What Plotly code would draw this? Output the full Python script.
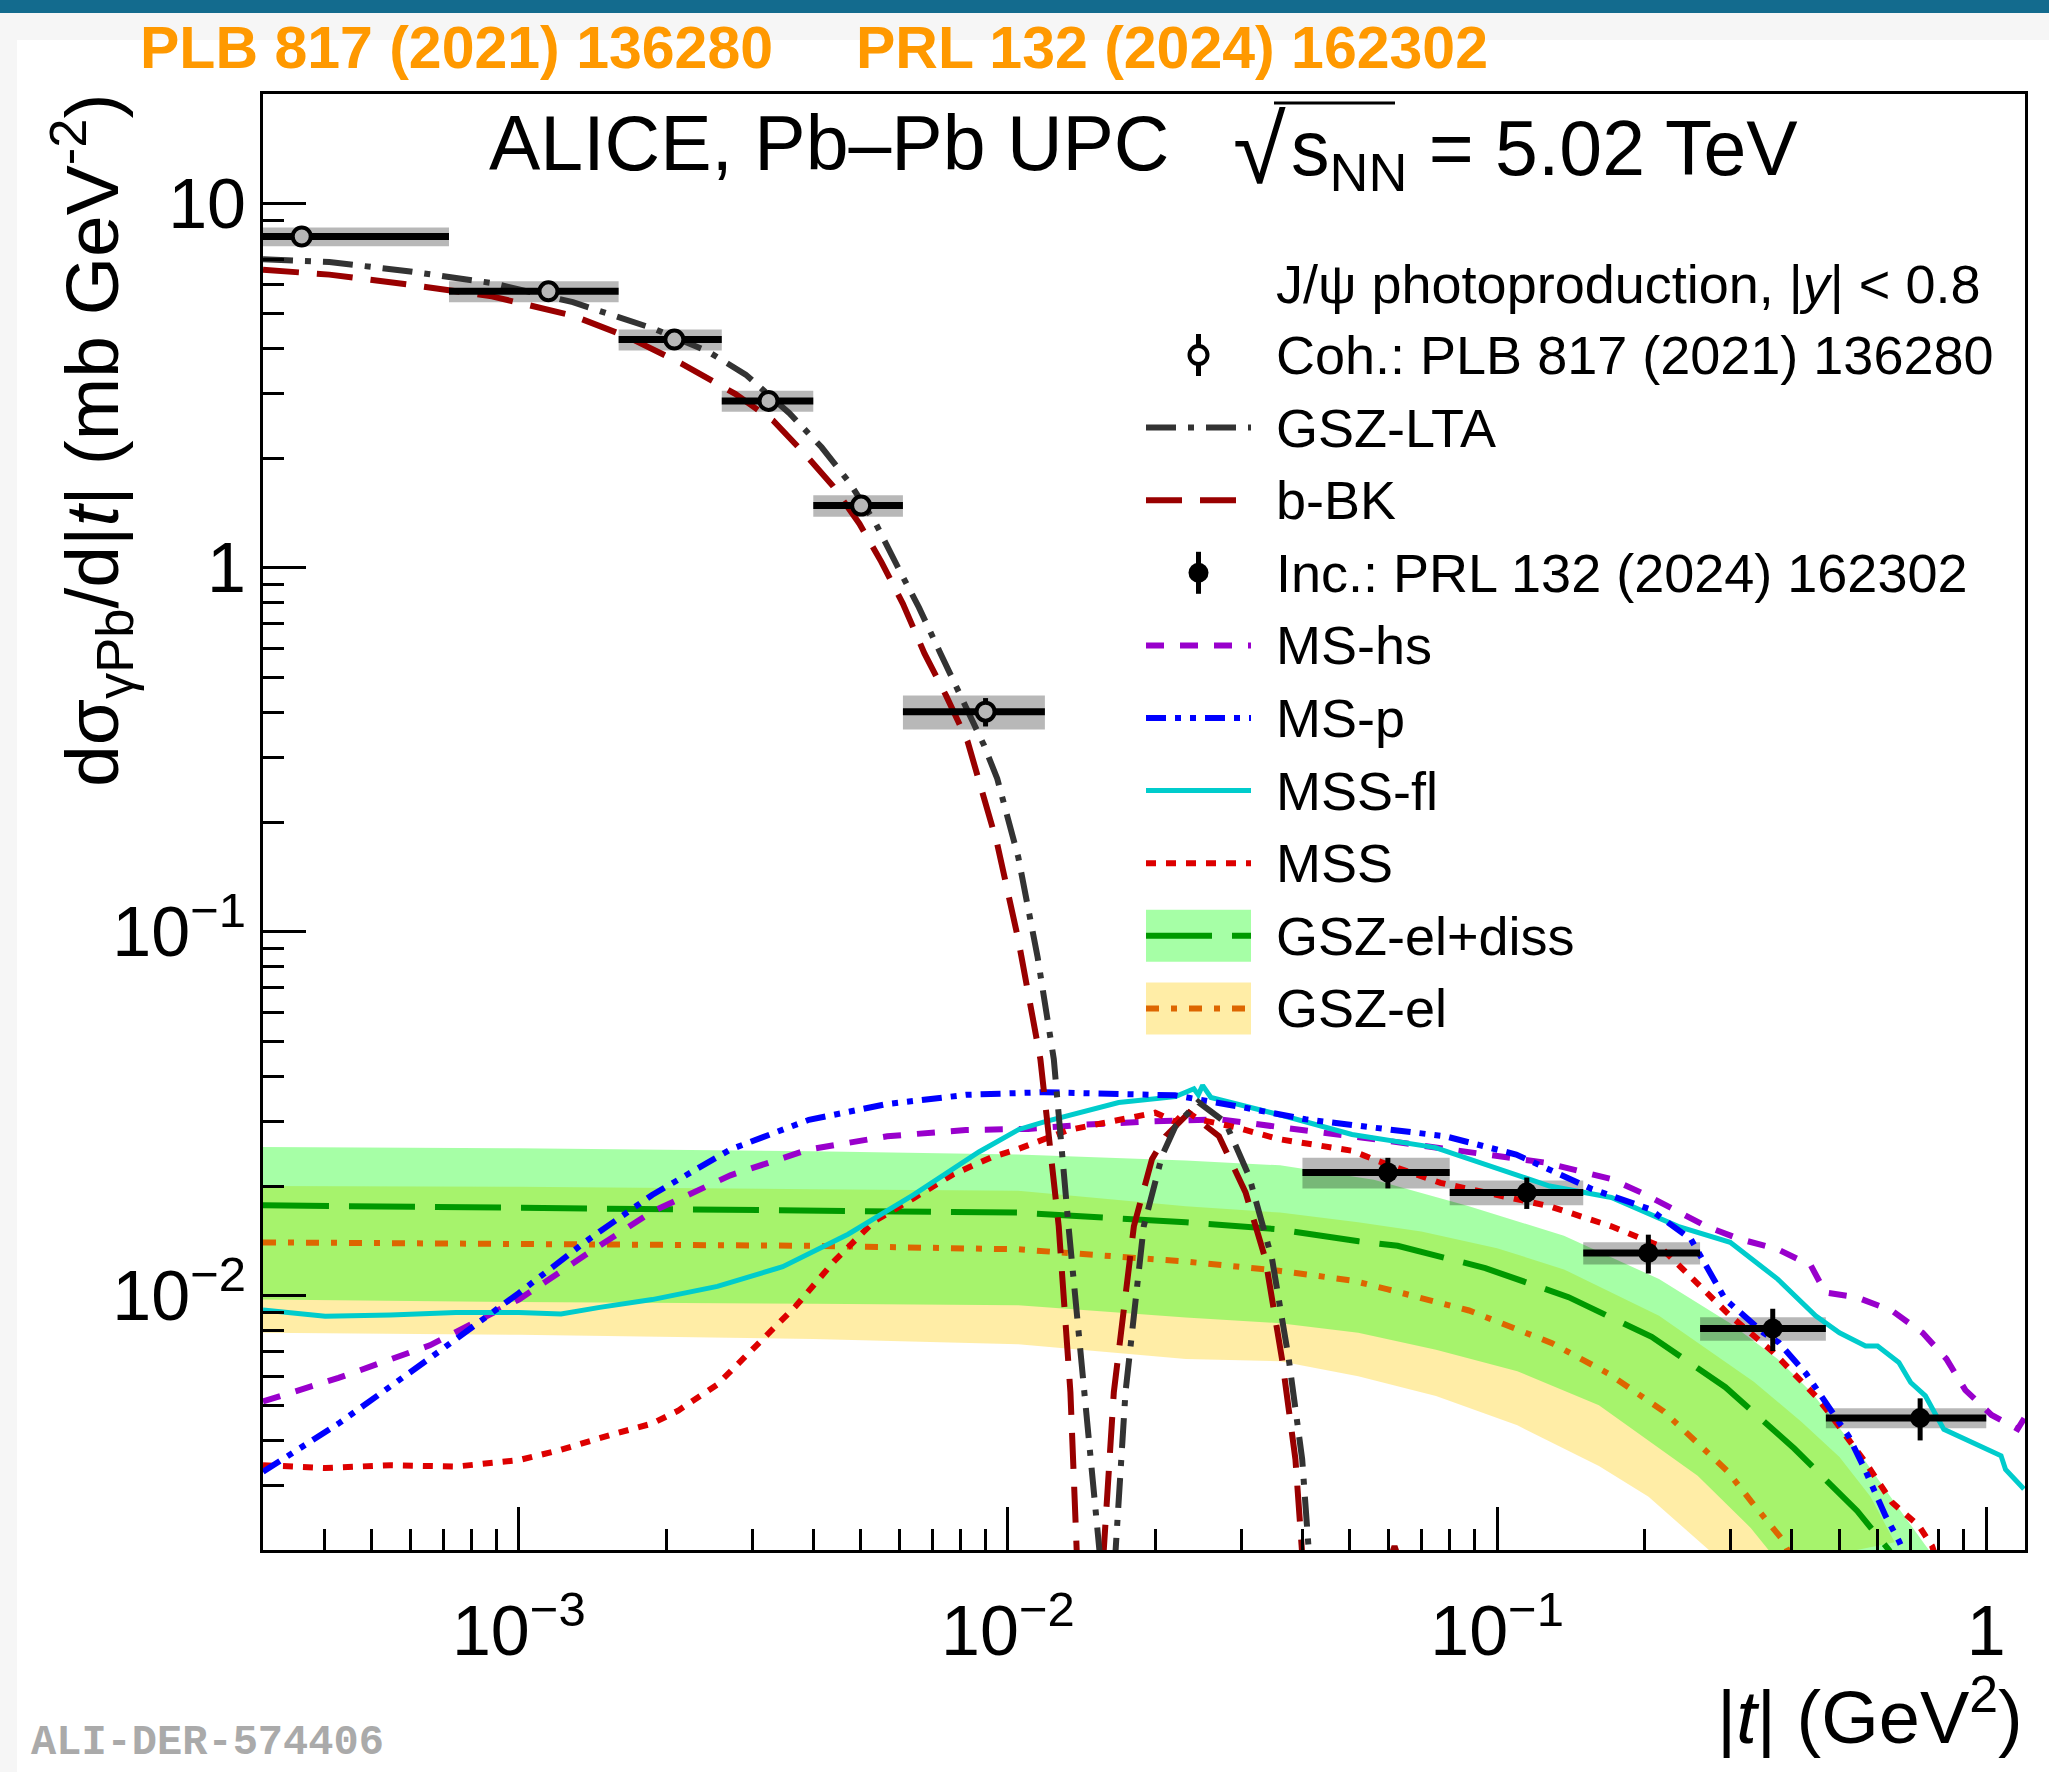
import numpy as np
import plotly.graph_objects as go

# ------------------------------------------------------------------ data
# Coherent J/psi, PLB 817 (2021) 136280
COH_T = [3.6e-4, 1.15e-3, 2.08e-3, 3.24e-3, 5.01e-3, 9.0e-3]
COH_EDGES = [0.0, 7.2e-4, 1.6e-3, 2.6e-3, 4.0e-3, 6.1e-3, 1.19e-2]
COH_Y = [8.12, 5.74, 4.23, 2.87, 1.48, 0.402]
COH_STAT = [0.20, 0.12, 0.09, 0.07, 0.05, 0.036]
COH_SYST = [0.48, 0.38, 0.28, 0.19, 0.10, 0.043]

# Incoherent J/psi, PRL 132 (2024) 162302
INC_T = [0.0598, 0.115, 0.2038, 0.366, 0.7325]
INC_EDGES = [0.04, 0.08, 0.15, 0.26, 0.47, 1.0]
INC_Y = [0.0218, 0.0192, 0.0131, 0.00812, 0.00461]
INC_STAT = [0.0021, 0.0019, 0.0016, 0.00108, 0.00061]
INC_SYST = [0.0021, 0.0015, 0.00092, 0.0006, 0.00029]

# GSZ-LTA
LTA_T = [3.0e-4, 4.1e-4, 6.0e-4, 8.81e-4, 1.29e-3, 1.89e-3, 2.44e-3, 2.91e-3, 3.57e-3,
         4.16e-3, 4.73e-3, 5.37e-3, 5.94e-3, 6.58e-3, 7.28e-3, 8.06e-3, 8.93e-3, 9.51e-3,
         1.05e-2, 1.15e-2, 1.241e-2, 1.33e-2, 1.429e-2, 1.538e-2, 1.60e-2, 1.66e-2,
         1.739e-2, 1.895e-2, 2.065e-2, 2.20e-2, 2.45e-2, 2.784e-2, 3.11e-2, 3.467e-2,
         3.75e-2, 3.995e-2, 4.12e-2, 4.5e-2]
LTA_Y = [7.03, 6.91, 6.51, 6.05, 5.36, 4.53, 3.92, 3.39, 2.66,
         2.14, 1.72, 1.32, 1.01, 0.776, 0.581, 0.4346, 0.3254, 0.263,
         0.16, 0.085, 0.0446, 0.0155, 0.00542, 0.0020, 1e-5, 0.0020,
         0.00542, 0.0155, 0.0242, 0.0292, 0.0340, 0.0299, 0.0213, 0.0126,
         0.0067, 0.00355, 0.0020, 1e-5]

# b-BK
BBK_T = [3.0e-4, 4.1e-4, 6.0e-4, 8.81e-4, 1.29e-3, 1.665e-3, 2.147e-3, 2.77e-3, 3.31e-3,
         3.86e-3, 4.38e-3, 4.97e-3, 5.51e-3, 6.1e-3, 6.75e-3, 7.47e-3, 8.27e-3, 8.7e-3,
         9.5e-3, 1.05e-2, 1.165e-2, 1.27e-2, 1.342e-2, 1.382e-2, 1.45e-2, 1.57e-2,
         1.646e-2, 1.809e-2, 1.97e-2, 2.10e-2, 2.344e-2, 2.70e-2, 3.06e-2, 3.36e-2,
         3.634e-2, 3.87e-2, 3.99e-2, 4.6e-2, 5.5e-2, 6.17e-2, 6.9e-2, 8.0e-2]
BBK_Y = [6.58, 6.38, 5.98, 5.56, 4.92, 4.31, 3.64, 3.00, 2.535,
         2.04, 1.68, 1.32, 1.037, 0.795, 0.581, 0.4455, 0.333, 0.263,
         0.175, 0.095, 0.0446, 0.0155, 0.00542, 0.0020, 1e-5, 0.0020,
         0.00542, 0.0155, 0.0237, 0.0274, 0.0318, 0.0274, 0.0192, 0.0126,
         0.00668, 0.00355, 0.0020, 1e-5, 0.0013, 0.00205, 0.0013, 1e-5]

# MS-hs
MSHS_T = [3.0e-4, 4.28e-4, 6.58e-4, 1.0e-3, 1.377e-3, 1.873e-3, 2.708e-3, 3.918e-3,
          5.667e-3, 8.2e-3, 1.10e-2, 1.44e-2, 1.97e-2, 2.70e-2, 3.69e-2, 5.05e-2,
          5.98e-2, 0.1252, 0.1464, 0.1712, 0.2002, 0.229, 0.2677, 0.3131, 0.3746,
          0.4379, 0.4686, 0.5418, 0.6405, 0.741, 0.8289, 0.9063, 1.025, 1.159, 1.196]
MSHS_Y = [0.00512, 0.00594, 0.0073, 0.00975, 0.0130, 0.0170, 0.0214, 0.0252,
          0.0274, 0.0285, 0.0287, 0.0295, 0.0301, 0.0305, 0.0289, 0.0274,
          0.0266, 0.0232, 0.0220, 0.0209, 0.0190, 0.0173, 0.0155, 0.0143, 0.0134,
          0.0121, 0.0102, 0.0099, 0.0091, 0.0079, 0.0067, 0.0055, 0.0047, 0.0043, 0.0046]

# MS-p
MSP_T = [3.0e-4, 4.28e-4, 6.58e-4, 1.0e-3, 1.377e-3, 1.873e-3, 2.708e-3, 3.918e-3,
         5.667e-3, 8.2e-3, 1.186e-2, 1.613e-2, 2.194e-2, 2.983e-2, 4.057e-2, 5.518e-2,
         7.83e-2, 0.1094, 0.1565, 0.2047, 0.2489, 0.2927, 0.3503, 0.3767, 0.4283,
         0.5236, 0.5665, 0.6224, 0.6627, 0.70]
MSP_Y = [0.00328, 0.00445, 0.00673, 0.01016, 0.01415, 0.0189, 0.0252, 0.0304,
         0.0336, 0.0356, 0.0362, 0.0360, 0.0355, 0.0330, 0.0305, 0.0290,
         0.0274, 0.0244, 0.0196, 0.0173, 0.0143, 0.00977, 0.0079, 0.00743, 0.0061,
         0.0041, 0.0033, 0.00248, 0.00212, 0.0018]

# MSS-fl
MSSFL_T = [3.0e-4, 4.02e-4, 5.47e-4, 7.44e-4, 1.0e-3, 1.22e-3, 1.464e-3, 1.873e-3,
           2.547e-3, 3.464e-3, 4.713e-3, 6.409e-3, 8.72e-3, 1.052e-2, 1.186e-2,
           1.684e-2, 2.20e-2, 2.40e-2, 2.45e-2, 2.50e-2, 2.60e-2, 3.69e-2, 5.05e-2,
           7.48e-2, 0.128, 0.1712, 0.2343, 0.2996, 0.3746, 0.4479, 0.5011, 0.5665,
           0.5994, 0.6627, 0.7006, 0.751, 0.8189, 0.9371, 0.9808, 1.072, 1.095, 1.194]
MSSFL_Y = [0.00913, 0.00877, 0.00884, 0.00898, 0.00898, 0.0089, 0.00928, 0.00975,
           0.0106, 0.0120, 0.01474, 0.0189, 0.0248, 0.0286, 0.0300,
           0.0339, 0.0352, 0.0370, 0.0356, 0.0378, 0.0350, 0.0311, 0.0277,
           0.0255, 0.0200, 0.0186, 0.0155, 0.0140, 0.0111, 0.0088, 0.0079, 0.00727,
           0.00727, 0.00655, 0.00577, 0.0053, 0.00429, 0.00395, 0.00386, 0.00363, 0.00333, 0.00294]

# MSS
MSS_T = [3.0e-4, 4.02e-4, 5.47e-4, 7.44e-4, 1.0e-3, 1.22e-3, 1.557e-3, 1.873e-3,
         2.118e-3, 2.547e-3, 3.063e-3, 3.685e-3, 4.43e-3, 5.33e-3, 6.409e-3, 7.71e-3,
         9.27e-3, 1.052e-2, 1.33e-2, 1.684e-2, 2.00e-2, 2.20e-2, 2.31e-2, 2.45e-2,
         2.92e-2, 3.58e-2, 5.05e-2, 5.72e-2, 7.66e-2, 0.128, 0.1712, 0.2143, 0.2504,
         0.2996, 0.3663, 0.4479, 0.4767, 0.5418, 0.5665, 0.6422, 0.7283, 0.775, 0.80]
MSS_Y = [0.00342, 0.00336, 0.00342, 0.00339, 0.00353, 0.00377, 0.00416, 0.00445,
         0.00483, 0.0057, 0.0073, 0.00936, 0.0125, 0.0160, 0.0185, 0.0215,
         0.0240, 0.0253, 0.0285, 0.0305, 0.0318, 0.0300, 0.0322, 0.0305,
         0.0290, 0.0269, 0.0250, 0.0234, 0.0204, 0.0176, 0.0155, 0.0137, 0.0111,
         0.0088, 0.0070, 0.0053, 0.00477, 0.00378, 0.00348, 0.0027, 0.00233, 0.00205, 0.0018]

# GSZ-el+diss : central curve and band
GSZD_T = [3.0e-4, 1.0e-3, 4.0e-3, 1.05e-2, 2.31e-2, 3.58e-2, 5.21e-2, 6.26e-2, 9.46e-2,
          0.14, 0.207, 0.2929, 0.405, 0.5447, 0.6324, 0.70]
GSZD_Y = [0.0177, 0.0174, 0.0172, 0.0169, 0.0159, 0.0152, 0.0141, 0.0137, 0.0119,
          0.0099, 0.0077, 0.0056, 0.0038, 0.00256, 0.0020, 0.0016]
GSZD_HI_T = [3.0e-4, 1.0e-3, 4.0e-3, 1.05e-2, 2.31e-2, 3.6e-2, 5.6e-2, 8.76e-2, 0.137,
             0.2143, 0.2996, 0.3746, 0.4406, 0.5665, 0.6627, 0.763, 0.85]
GSZD_HI = [0.0256, 0.0254, 0.0249, 0.0244, 0.0235, 0.0228, 0.0208, 0.0176, 0.0146,
           0.0111, 0.0084, 0.0067, 0.0054, 0.0035, 0.0026, 0.0020, 0.0016]
GSZD_LO_T = [3.0e-4, 1.0e-3, 4.0e-3, 1.05e-2, 2.31e-2, 3.6e-2, 5.2e-2, 7.5e-2, 0.11,
             0.1615, 0.257, 0.33, 0.37, 0.42]
GSZD_LO = [0.00976, 0.0096, 0.0095, 0.0094, 0.0087, 0.0084, 0.0079, 0.0071, 0.0062,
           0.0050, 0.0032, 0.0023, 0.0019, 0.0015]

# GSZ-el : central curve and band
GSZE_T = [3.0e-4, 1.0e-3, 4.0e-3, 1.05e-2, 2.31e-2, 3.58e-2, 5.05e-2, 5.98e-2, 8.76e-2,
          0.1295, 0.169, 0.2193, 0.2543, 0.2953, 0.3321, 0.3825, 0.40]
GSZE_Y = [0.0140, 0.0139, 0.0137, 0.0134, 0.0124, 0.0117, 0.0110, 0.0104, 0.0091,
          0.0074, 0.0061, 0.0048, 0.0040, 0.0033, 0.0027, 0.00214, 0.0019]
GSZE_HI_T = [3.0e-4, 1.0e-3, 4.0e-3, 1.05e-2, 2.31e-2, 3.6e-2, 5.2e-2, 7.0e-2, 0.10, 0.137,
             0.2143, 0.3348, 0.4188, 0.5011, 0.58, 0.65]
GSZE_HI = [0.0200, 0.0199, 0.0196, 0.0194, 0.0176, 0.0169, 0.0159, 0.0150, 0.0135, 0.0118,
           0.0088, 0.0058, 0.0045, 0.0036, 0.0028, 0.0021]
GSZE_LO_T = [3.0e-4, 1.0e-3, 4.0e-3, 1.05e-2, 2.31e-2, 3.6e-2, 5.2e-2, 7.5e-2, 0.11,
             0.1615, 0.204, 0.271, 0.30]
GSZE_LO = [0.0079, 0.0078, 0.0076, 0.00735, 0.0067, 0.0066, 0.0060, 0.0053, 0.0044,
           0.0034, 0.0028, 0.0020, 0.0017]

# axis ticks
X_TICKS = [1e-3, 1e-2, 1e-1, 1]
X_TICK_TEXT = ["10<sup>−3</sup>", "10<sup>−2</sup>", "10<sup>−1</sup>", "1"]
Y_TICKS = [1e-2, 1e-1, 1, 10]
Y_TICK_TEXT = ["10<sup>−2</sup>", "10<sup>−1</sup>", "1", "10"]
X_MINOR = [m * 10.0 ** e for e in (-4, -3, -2, -1) for m in range(2, 10) if 3e-4 < m * 10.0 ** e < 1.2]
Y_MINOR = [m * 10.0 ** e for e in (-3, -2, -1, 0) for m in range(2, 10) if 0.002 < m * 10.0 ** e < 20]

# ------------------------------------------------------------------ style
W, H = 2049, 1772
X0, X1, Y0, Y1 = 263, 2025, 94, 1550          # plot area in page pixels
FONT = "Liberation Sans, Arial, Helvetica, sans-serif"
LW = 6

STY = {
    "GSZ-LTA": dict(color="#333333", width=LW, dash="30px,12px,6px,12px"),
    "b-BK": dict(color="#990000", width=LW, dash="36px,18px"),
    "MS-hs": dict(color="#9900cc", width=LW, dash="18px,16px"),
    "MS-p": dict(color="#0000ff", width=LW, dash="20px,9px,6px,9px,6px,9px"),
    "MSS-fl": dict(color="#00cccc", width=5),
    "MSS": dict(color="#dd0000", width=LW, dash="10px,10px"),
    "GSZ-el+diss": dict(color="#009900", width=LW, dash="66px,20px"),
    "GSZ-el": dict(color="#dd6600", width=LW, dash="13px,12px,6px,12px"),
}
GREEN_FILL = "rgba(0,255,0,0.35)"
YELLOW_FILL = "rgba(255,204,0,0.35)"
BOX_FILL = "rgba(0,0,0,0.28)"


def px(x):
    return (x - X0) / (X1 - X0)


def py(y):
    return (Y1 - y) / (Y1 - Y0)


def box_path(edges, vals, errs):
    xs, ys = [], []
    for i, (v, e) in enumerate(zip(vals, errs)):
        lo, hi = max(edges[i], 1e-6), edges[i + 1]
        xs += [lo, hi, hi, lo, lo, None]
        ys += [v - e, v - e, v + e, v + e, v - e, None]
    return xs, ys


fig = go.Figure()
noh = dict(hoverinfo="skip", showlegend=False)

# bands (yellow first, green on top)
fig.add_trace(go.Scatter(x=GSZE_LO_T, y=GSZE_LO, mode="lines", line=dict(width=0), **noh))
fig.add_trace(go.Scatter(x=GSZE_HI_T, y=GSZE_HI, mode="lines", line=dict(width=0),
                         fill="tonexty", fillcolor=YELLOW_FILL, **noh))
fig.add_trace(go.Scatter(x=GSZD_LO_T, y=GSZD_LO, mode="lines", line=dict(width=0), **noh))
fig.add_trace(go.Scatter(x=GSZD_HI_T, y=GSZD_HI, mode="lines", line=dict(width=0),
                         fill="tonexty", fillcolor=GREEN_FILL, **noh))

# systematic boxes
for edges, vals, errs in ((COH_EDGES, COH_Y, COH_SYST), (INC_EDGES, INC_Y, INC_SYST)):
    bx, byy = box_path(edges, vals, errs)
    fig.add_trace(go.Scatter(x=bx, y=byy, mode="lines", line=dict(width=0),
                             fill="toself", fillcolor=BOX_FILL, **noh))

# model curves
for name, tt, yy in (("GSZ-el", GSZE_T, GSZE_Y), ("GSZ-el+diss", GSZD_T, GSZD_Y),
                     ("MS-hs", MSHS_T, MSHS_Y), ("MSS", MSS_T, MSS_Y),
                     ("MSS-fl", MSSFL_T, MSSFL_Y), ("MS-p", MSP_T, MSP_Y),
                     ("b-BK", BBK_T, BBK_Y), ("GSZ-LTA", LTA_T, LTA_Y)):
    fig.add_trace(go.Scatter(x=tt, y=yy, mode="lines", line=STY[name], name=name, **noh))


# data points
def add_points(tt, edges, yy, stat, marker):
    lo = [max(e, 1e-6) for e in edges[:-1]]
    hi = edges[1:]
    fig.add_trace(go.Scatter(
        x=tt, y=yy, mode="markers", marker=marker,
        error_x=dict(type="data", symmetric=False,
                     array=[h - t for h, t in zip(hi, tt)],
                     arrayminus=[t - l for t, l in zip(tt, lo)],
                     color="black", thickness=7, width=0),
        error_y=dict(type="data", array=stat, color="black", thickness=5, width=0),
        **noh))


add_points(COH_T, COH_EDGES, COH_Y, COH_STAT,
           dict(symbol="circle", size=18, color="#b7b7b7", line=dict(color="black", width=4)))
add_points(INC_T, INC_EDGES, INC_Y, INC_STAT,
           dict(symbol="circle", size=20, color="black", line=dict(width=0)))

# ------------------------------------------------------------------ legend (drawn in page pixels)
LEG_X0, LEG_X1, LEG_TX = 1146, 1251, 1274
LEG_HEADER_Y, LEG_Y0, LEG_DY = 284, 355, 72.6
LEGEND = ["Coh.: PLB 817 (2021) 136280", "GSZ-LTA", "b-BK", "Inc.: PRL 132 (2024) 162302",
          "MS-hs", "MS-p", "MSS-fl", "MSS", "GSZ-el+diss", "GSZ-el"]
leg = dict(xaxis="x2", yaxis="y2", **noh)
xm = 0.5 * (LEG_X0 + LEG_X1)
LEG_FONT = dict(size=54)
annotations = [dict(x=px(LEG_TX), y=py(LEG_HEADER_Y),
                    text="J/ψ photoproduction, |<i>y</i>| &lt; 0.8", font=LEG_FONT)]
for i, lab in enumerate(LEGEND):
    y = LEG_Y0 + i * LEG_DY
    annotations.append(dict(x=px(LEG_TX), y=py(y), text=lab, font=LEG_FONT))
    if lab in STY:
        if lab in ("GSZ-el+diss", "GSZ-el"):
            fill = GREEN_FILL if lab == "GSZ-el+diss" else YELLOW_FILL
            fig.add_trace(go.Scatter(x=[LEG_X0, LEG_X1, LEG_X1, LEG_X0, LEG_X0],
                                     y=[y - 26, y - 26, y + 26, y + 26, y - 26], mode="lines",
                                     line=dict(width=0), fill="toself", fillcolor=fill, **leg))
        fig.add_trace(go.Scatter(x=[LEG_X0, LEG_X1], y=[y, y], mode="lines", line=STY[lab], **leg))
    else:
        coh = lab.startswith("Coh")
        mk = (dict(symbol="circle", size=18, color="white", line=dict(color="black", width=4))
              if coh else dict(symbol="circle", size=20, color="black", line=dict(width=0)))
        fig.add_trace(go.Scatter(x=[xm], y=[y], mode="markers", marker=mk,
                                 error_y=dict(type="constant", value=21, color="black",
                                              thickness=5, width=0), **leg))

# titles and labels (page-pixel positions converted to paper fractions)
annotations += [
    dict(x=px(138), y=py(48), text="<b>PLB 817 (2021) 136280</b>", font=dict(size=59, color="#ff9900")),
    dict(x=px(854), y=py(48), text="<b>PRL 132 (2024) 162302</b>", font=dict(size=59, color="#ff9900")),
    dict(x=px(487), y=py(143), text="ALICE, Pb–Pb UPC", font=dict(size=77)),
    dict(x=px(1288), y=py(150), text="√", font=dict(size=96), xanchor="right"),
    dict(x=px(1289), y=py(154), text="s<sub>NN</sub> = 5.02 TeV", font=dict(size=77)),
    dict(x=px(91), y=py(441), text="dσ<sub>γPb</sub>/d|<i>t</i>| (mb GeV<sup>-2</sup>)",
         font=dict(size=75), textangle=-90, xanchor="center"),
    dict(x=px(X1), y=py(1712), text="|<i>t</i>| (GeV<sup>2</sup>)", font=dict(size=74), xanchor="right"),
    dict(x=px(29), y=py(1769), text="<b>ALI-DER-574406</b>", yanchor="bottom",
         font=dict(size=42, color="#aaaaaa", family="Liberation Mono, Courier New, monospace")),
]
for a in annotations:
    a.update(xref="paper", yref="paper", showarrow=False)
    a.setdefault("xanchor", "left")
    a.setdefault("yanchor", "middle")

shapes = [
    # light grey page border strips and the top banner
    dict(type="rect", xref="paper", yref="paper", x0=px(0), x1=px(W), y0=py(40), y1=py(13),
         fillcolor="#f6f6f6", line=dict(width=0), layer="below"),
    dict(type="rect", xref="paper", yref="paper", x0=px(0), x1=px(17), y0=py(H), y1=py(40),
         fillcolor="#f6f6f6", line=dict(width=0), layer="below"),
    dict(type="rect", xref="paper", yref="paper", x0=px(0), x1=px(W), y0=py(13), y1=py(0),
         fillcolor="#136b8e", line=dict(width=0), layer="below"),
    # vinculum of the square root
    dict(type="line", xref="paper", yref="paper", x0=px(1274), x1=px(1395), y0=py(103), y1=py(103),
         line=dict(color="black", width=3)),
]

axis_common = dict(showgrid=False, zeroline=False, showline=True, linecolor="black", linewidth=3,
                   mirror=True, ticks="inside", tickwidth=3, tickcolor="black", ticklen=43,
                   tickmode="array", tickfont=dict(size=70, family=FONT))

fig.update_layout(
    width=W, height=H, margin=dict(l=X0, r=W - X1, t=Y0, b=H - Y1),
    paper_bgcolor="white", plot_bgcolor="white", showlegend=False,
    font=dict(family=FONT, color="black"),
    xaxis=dict(type="log", range=[np.log10(3e-4), np.log10(1.2)], tickvals=X_TICKS,
               ticktext=X_TICK_TEXT, ticklabelstandoff=18,
               minor=dict(ticks="inside", ticklen=21, tickwidth=3, tickcolor="black",
                          tickmode="array", tickvals=X_MINOR), **axis_common),
    yaxis=dict(type="log", range=[np.log10(0.002), np.log10(20)], tickvals=Y_TICKS,
               ticktext=Y_TICK_TEXT, ticklabelstandoff=0,
               minor=dict(ticks="inside", ticklen=21, tickwidth=3, tickcolor="black",
                          tickmode="array", tickvals=Y_MINOR), **axis_common),
    xaxis2=dict(overlaying="x", anchor="y2", range=[X0, X1], visible=False),
    yaxis2=dict(overlaying="y", anchor="x2", range=[Y1, Y0], visible=False),
    annotations=annotations, shapes=shapes,
)

fig.write_html("out.html")
